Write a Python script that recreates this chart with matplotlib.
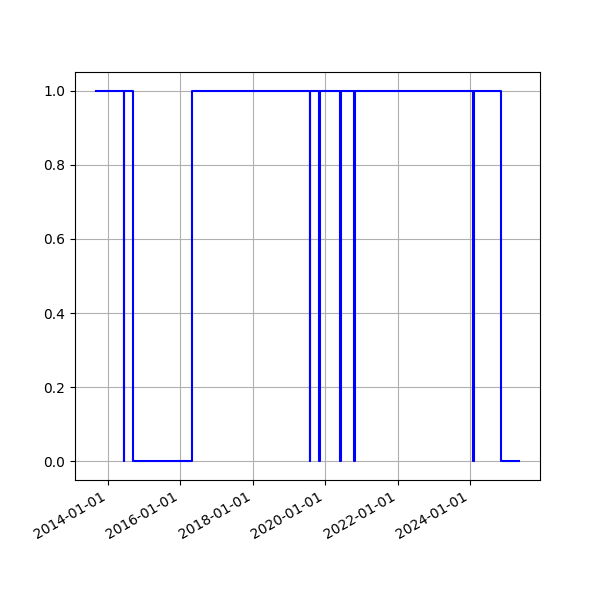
import matplotlib
matplotlib.use('Agg')
import matplotlib.pyplot as plt
import matplotlib.dates as mdates
import pandas as pd

# dates where the state changes, and the state from that date on
change_dates = [
    '2013-09-05', '2014-06-10', '2014-06-18', '2014-09-12', '2016-04-26',
    '2019-07-28', '2019-08-05', '2019-11-03', '2019-11-11',
    '2020-05-29', '2020-06-06', '2020-10-18', '2020-10-26',
    '2024-01-29', '2024-02-06', '2024-11-11', '2025-05-08',
]
states = [1, 0, 1, 0, 1, 0, 1, 0, 1, 0, 1, 0, 1, 0, 1, 0, 0]

dates = pd.to_datetime(change_dates)

fig, ax = plt.subplots(figsize=(6, 6), dpi=100)
ax.step(dates, states, where='post', color='blue')

ax.xaxis.set_major_locator(mdates.YearLocator(2))
ax.xaxis.set_major_formatter(mdates.DateFormatter('%Y-%m-%d'))
ax.grid(True)
fig.autofmt_xdate()

fig.savefig('out.png')
